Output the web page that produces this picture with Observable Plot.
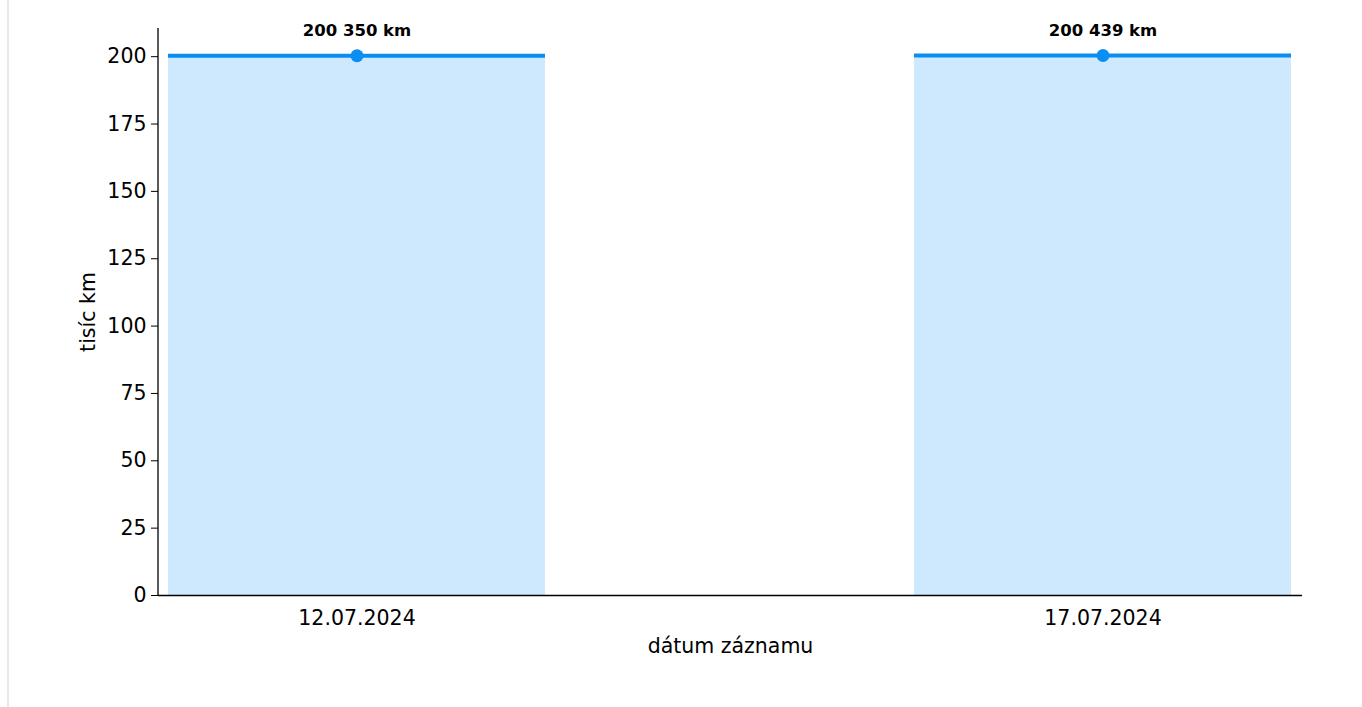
<!DOCTYPE html>
<html>
<head>
<meta charset="utf-8">
<script src="https://cdn.jsdelivr.net/npm/d3@7"></script>
<script src="https://cdn.jsdelivr.net/npm/@observablehq/plot@0.6"></script>
<style>
  html, body { margin: 0; padding: 0; background: #fff; }
  #wrap { position: relative; width: 1362px; height: 707px; }
  #edge { position: absolute; left: 7px; top: 0; width: 2px; height: 707px; background: #e8e8e8; }
  svg { font-family: "DejaVu Sans", sans-serif; }
</style>
</head>
<body>
<div id="wrap"><div id="edge"></div></div>
<script>
const dates = ["12.07.2024", "17.07.2024"];
const km = [200350, 200439];
const yTicks = [0, 25, 50, 75, 100, 125, 150, 175, 200];
const yLabel = "tisíc km";
const xLabel = "dátum záznamu";

const data = dates.map((d, i) => ({date: d, km: km[i], thousand: km[i] / 1000}));
const fmt = v => d3.format(",")(v).replace(/,/g, " ") + " km";
const blue = "#0a8ef2";
const fill = "#cee8fd";

const leftSpine = (index, scales, values, dims) => {
  const g = d3.create("svg:g");
  g.append("line")
    .attr("x1", dims.marginLeft).attr("x2", dims.marginLeft)
    .attr("y1", dims.marginTop).attr("y2", dims.height - dims.marginBottom)
    .attr("stroke", "black").attr("stroke-width", 1.3);
  return g.node();
};

const chart = Plot.plot({
  width: 1362,
  height: 707,
  marginLeft: 158,
  marginRight: 60,
  marginTop: 28,
  marginBottom: 112,
  style: {fontFamily: "DejaVu Sans, sans-serif", background: "transparent"},
  x: {domain: dates, paddingInner: 0.4946, paddingOuter: 0.014, label: null},
  y: {domain: [0, d3.max(km) / 1000 * 1.05], label: null},
  marks: [
    Plot.barY(data, {x: "date", y: "thousand", fill: fill}),
    Plot.tickY(data, {x: "date", y: "thousand", stroke: blue, strokeWidth: 4}),
    Plot.dot(data, {x: "date", y: "thousand", r: 6.5, fill: blue}),
    Plot.text(data, {x: "date", y: "thousand", text: d => fmt(d.km), dy: -25, fontSize: 16.5, fontWeight: "bold", fill: "black"}),
    Plot.ruleY([0], {stroke: "black", strokeWidth: 1.3}),
    leftSpine,
    Plot.axisY({ticks: yTicks, tickSize: 7, tickPadding: 5, fontSize: 20.5, label: null, stroke: "black"}),
    Plot.axisX({tickSize: 0, tickPadding: 15, fontSize: 20.5, label: null}),
    Plot.text([yLabel], {frameAnchor: "left", textAnchor: "middle", lineAnchor: "middle", dx: -70, rotate: -90, fontSize: 20.5, fill: "black"}),
    Plot.text([xLabel], {frameAnchor: "bottom", textAnchor: "middle", lineAnchor: "middle", dy: 51, fontSize: 20.5, fill: "black"})
  ]
});
document.getElementById("wrap").appendChild(chart);
</script>
</body>
</html>
